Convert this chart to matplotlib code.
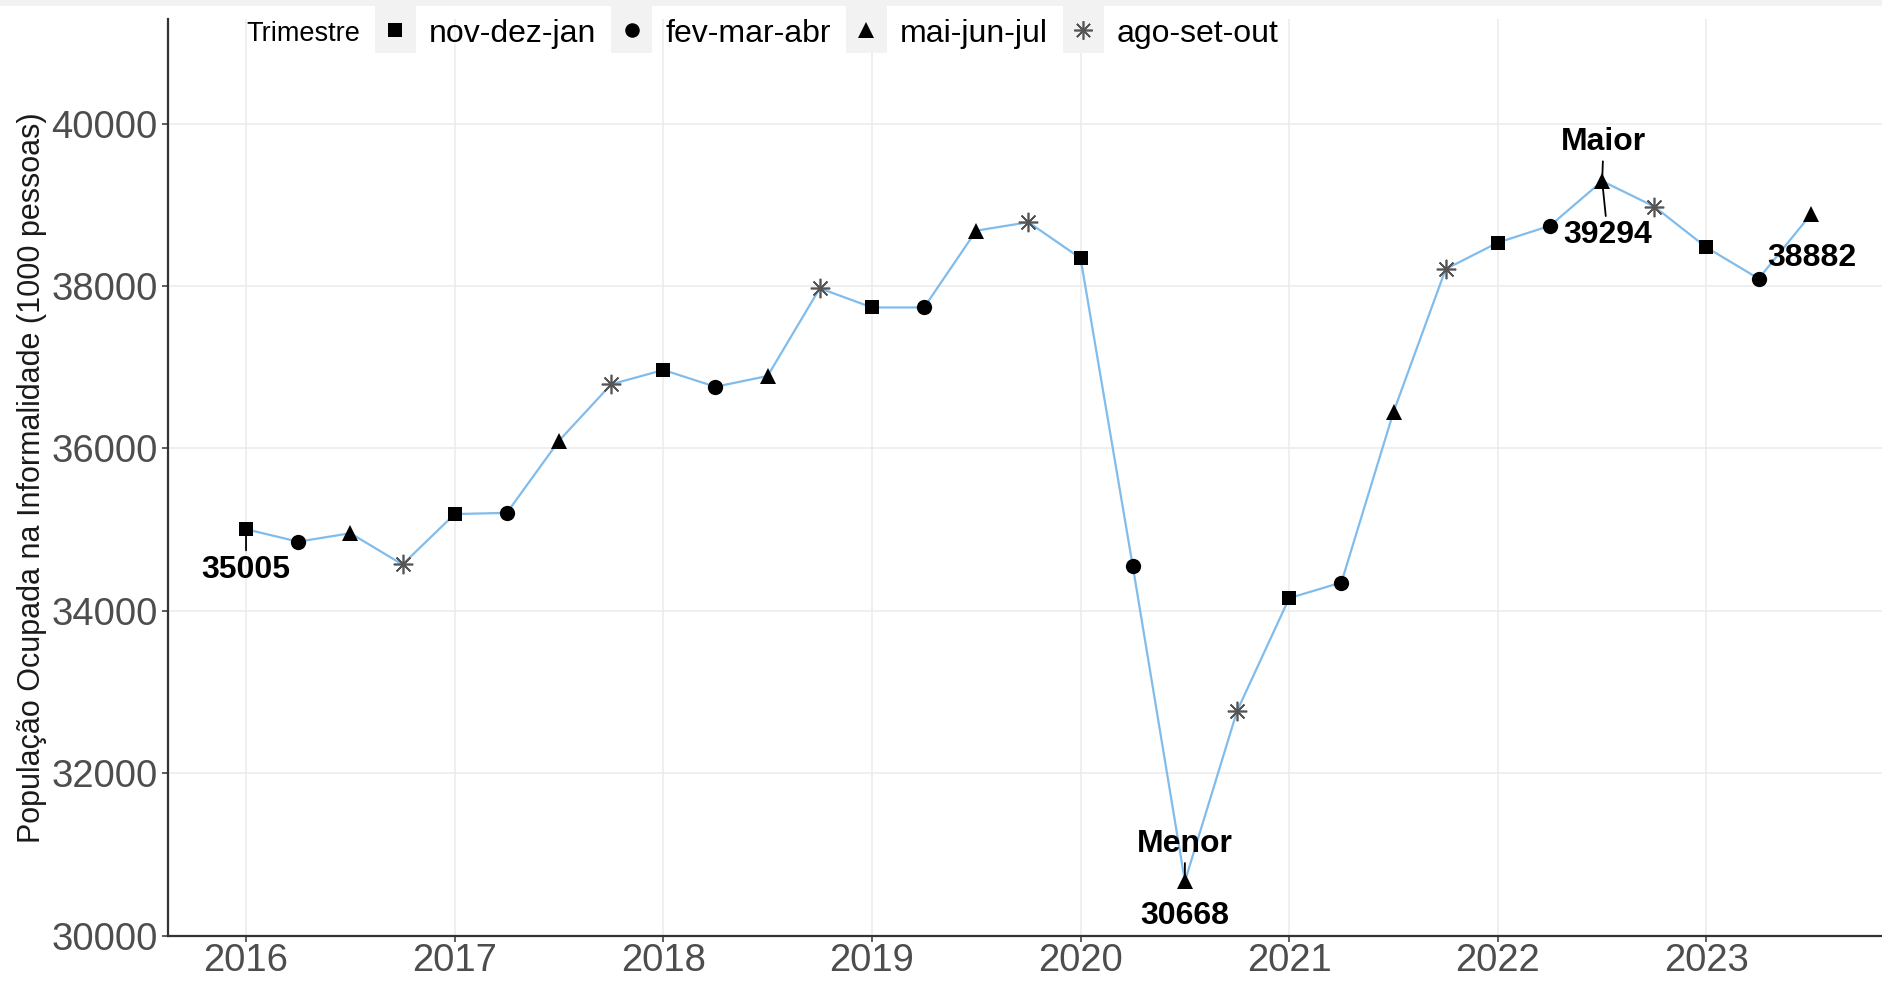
import matplotlib
matplotlib.use("Agg")
import matplotlib.pyplot as plt
from matplotlib.patches import Rectangle
from matplotlib.lines import Line2D

plt.rcParams['font.family'] = ['Liberation Sans', 'DejaVu Sans']

# População ocupada na informalidade (1000 pessoas), trimestres móveis
anos = [2016.00, 2016.25, 2016.50, 2016.75,
        2017.00, 2017.25, 2017.50, 2017.75,
        2018.00, 2018.25, 2018.50, 2018.75,
        2019.00, 2019.25, 2019.50, 2019.75,
        2020.00, 2020.25, 2020.50, 2020.75,
        2021.00, 2021.25, 2021.50, 2021.75,
        2022.00, 2022.25, 2022.50, 2022.75,
        2023.00, 2023.25, 2023.50]
valores = [35005, 34852, 34956, 34571,
           35192, 35207, 36095, 36790,
           36967, 36760, 36893, 37973,
           37737, 37737, 38683, 38787,
           38343, 34553, 30668, 32766,
           34157, 34349, 36450, 38210,
           38536, 38743, 39294, 38979,
           38476, 38092, 38882]
trimestres = ['nov-dez-jan', 'fev-mar-abr', 'mai-jun-jul', 'ago-set-out']
anos_ticks = [2016, 2017, 2018, 2019, 2020, 2021, 2022, 2023]
y_ticks = [30000, 32000, 34000, 36000, 38000, 40000]

# estilo de cada trimestre: marcador, cor, tamanho
estilos = {
    'nov-dez-jan': dict(marker='s', color='black', ms=10.5, mew=0),
    'fev-mar-abr': dict(marker='o', color='black', ms=11, mew=0),
    'mai-jun-jul': dict(marker='^', color='black', ms=12, mew=0),
    'ago-set-out': dict(marker=(8, 2, 0), color='#555555', ms=14, mew=1.2),
}

W, H = 1883, 984
fig = plt.figure(figsize=(W / 100, H / 100), dpi=100)
ax = fig.add_axes([168 / W, 1 - 935.6 / H, 1 - 168 / W, (935.6 - 19) / H])

# faixa cinza no topo
fig.patches.append(Rectangle((0, 1 - 6 / H), 1, 6 / H, transform=fig.transFigure,
                             facecolor='#f2f2f2', edgecolor='none', zorder=0))

ax.plot(anos, valores, color='#80bcec', lw=1.6, zorder=2)
for k, tri in enumerate(trimestres):
    xs = anos[k::4]
    ys = valores[k::4]
    e = estilos[tri]
    ax.plot(xs, ys, linestyle='none', marker=e['marker'], ms=e['ms'],
            markerfacecolor=e['color'], markeredgecolor=e['color'],
            mew=e['mew'], zorder=3)

# rótulos (estilo ggrepel)
i_min = valores.index(min(valores))
i_max = valores.index(max(valores))
seg = dict(arrowstyle='-', color='black', lw=1.3, shrinkA=1, shrinkB=0)
fonte = dict(fontsize=23, fontweight='bold', ha='center', va='center')

ax.annotate(str(valores[0]), (anos[0], valores[0]), xytext=(0, -29),
            textcoords='offset points', arrowprops=seg, **fonte)
ax.annotate('Menor', (anos[i_min], valores[i_min]), xytext=(0, 27),
            textcoords='offset points', arrowprops=seg, **fonte)
ax.annotate(str(valores[i_min]), (anos[i_min], valores[i_min]), xytext=(0, -25),
            textcoords='offset points', **fonte)
ax.annotate('Maior', (anos[i_max], valores[i_max]), xytext=(1, 28),
            textcoords='offset points', arrowprops=seg, **fonte)
ax.annotate(str(valores[i_max]), (anos[i_max], valores[i_max]), xytext=(4, -39),
            textcoords='offset points', arrowprops=seg, **fonte)
ax.annotate(str(valores[-1]), (anos[-1], valores[-1]), xytext=(1, -31),
            textcoords='offset points', **fonte)

ax.set_xlim(2015.626, 2023.846)
ax.set_ylim(30000, 41290)
ax.set_xticks(anos_ticks)
ax.set_yticks(y_ticks)
ax.tick_params(axis='both', labelsize=27.5, labelcolor='#4d4d4d', color='#333333',
               length=4.5, width=1.1)
ax.tick_params(axis='x', pad=1)
ax.tick_params(axis='y', pad=3)
ax.grid(color='#ebebeb', lw=1.1)
ax.set_axisbelow(True)
for lado in ['top', 'right']:
    ax.spines[lado].set_visible(False)
for lado in ['left', 'bottom']:
    ax.spines[lado].set_color('#333333')
    ax.spines[lado].set_linewidth(1.6)

ax.set_ylabel('População Ocupada na Informalidade (1000 pessoas)', fontsize=22,
              color='#1a1a1a', va='center')
ax.yaxis.set_label_coords((32 - 168) / (W - 168), 0.5)

# legenda horizontal no topo
renderer = fig.canvas.get_renderer()
cy = 1 - 30 / H
ty = 1 - 34 / H
titulo = fig.text(246 / W, ty, 'Trimestre', fontsize=19.5, va='center', ha='left')
x = titulo.get_window_extent(renderer).x1 + 15
for tri in trimestres:
    e = estilos[tri]
    fig.patches.append(Rectangle((x / W, 1 - 53 / H), 41 / W, 47 / H,
                                 transform=fig.transFigure, facecolor='#f2f2f2',
                                 edgecolor='none'))
    fig.add_artist(Line2D([(x + 20.5) / W], [cy], transform=fig.transFigure,
                          linestyle='none', marker=e['marker'],
                          ms=e['ms'] * 0.95, markerfacecolor=e['color'],
                          markeredgecolor=e['color'], mew=e['mew']))
    t = fig.text((x + 54) / W, ty, tri, fontsize=23, va='center', ha='left')
    x = t.get_window_extent(renderer).x1 + 15

fig.savefig('out.png', dpi=100)
